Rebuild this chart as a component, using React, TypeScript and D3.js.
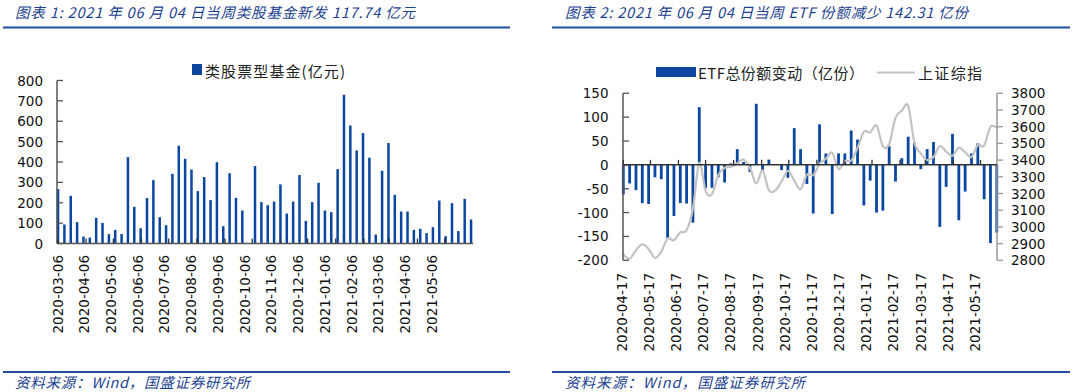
import * as d3 from "d3";

// 类股票型基金 weekly new issuance (亿元), from 2020-03-06 to 2021-06-04
const fundValues = [
  267, 93, 234, 105, 34, 29, 126, 101, 46, 67, 47, 424, 180, 75, 223, 311, 129, 90,
  342, 480, 416, 363, 257, 326, 213, 399, 85, 345, 224, 162, 0, 380, 203, 188, 206,
  290, 147, 206, 336, 111, 203, 298, 162, 154, 365, 730, 579, 457, 542, 421, 44, 357,
  493, 239, 157, 157, 67, 72, 51, 80, 211, 36, 198, 61, 219, 118,
];
const fundXLabels = [
  "2020-03-06", "2020-04-06", "2020-05-06", "2020-06-06", "2020-07-06", "2020-08-06",
  "2020-09-06", "2020-10-06", "2020-11-06", "2020-12-06", "2021-01-06", "2021-02-06",
  "2021-03-06", "2021-04-06", "2021-05-06",
];
const fundYTicks = [0, 100, 200, 300, 400, 500, 600, 700, 800];

// ETF总份额变动 (亿份) and 上证综指, weekly from 2020-04-17 to 2021-06-04
const etfValues = [
  -62, -39, -53, -80, -82, -26, -30, -153, -107, -80, -81, -121, 121, -49, -48, -26,
  -37, 3, 33, 6, -15, 128, -11, 11, 1, -11, -27, 77, 33, -40, -102, 85, 24, -103, 24,
  24, 72, 53, -85, -33, -100, -96, 39, -35, 14, 59, 47, -9, 33, 48, -130, -46, 65,
  -116, -56, 24, 45, -72, -164, -142,
];
const sseValues = [
  2838, 2809, 2860, 2895, 2868, 2814, 2852, 2930, 2920, 2967, 2980, 3110, 3383, 3214,
  3196, 3310, 3354, 3360, 3380, 3404, 3355, 3260, 3338, 3219, 3218, 3272, 3336, 3278,
  3225, 3312, 3310, 3377, 3408, 3444, 3347, 3395, 3397, 3473, 3570, 3566, 3607, 3483,
  3496, 3655, 3696, 3725, 3502, 3440, 3400, 3418, 3484, 3451, 3426, 3474, 3447, 3419,
  3490, 3487, 3601, 3592,
];
const etfXLabels = [
  "2020-04-17", "2020-05-17", "2020-06-17", "2020-07-17", "2020-08-17", "2020-09-17",
  "2020-10-17", "2020-11-17", "2020-12-17", "2021-01-17", "2021-02-17", "2021-03-17",
  "2021-04-17", "2021-05-17",
];
const etfYTicks = [150, 100, 50, 0, -50, -100, -150, -200];
const sseYTicks = [3800, 3700, 3600, 3500, 3400, 3300, 3200, 3100, 3000, 2900, 2800];

const BLUE = "#0b47a1";
const TITLE_BLUE = "#1c3f8f";
const NUM_FONT = '"DejaVu Sans", sans-serif';
const CJK_FONT = '"Noto Sans CJK SC", sans-serif';

const parse = d3.timeParse("%Y-%m-%d");
const weekly = (start: string, n: number) =>
  d3.range(n).map((i) => d3.timeDay.offset(parse(start)!, 7 * i));

const fundDates = weekly("2020-03-06", fundValues.length);
const etfDates = weekly("2020-04-17", etfValues.length);

function FundChart() {
  const x = d3
    .scaleTime()
    .domain([fundDates[0], fundDates[fundDates.length - 1]])
    .range([58, 471]);
  const y = d3.scaleLinear().domain([0, 800]).range([243.5, 80.5]);
  const xl = d3.scalePoint().domain(fundXLabels).range([57.5, 431.7]);

  return (
    <g>
      {fundValues.map((v, i) => (
        <rect
          key={i}
          x={x(fundDates[i]) - 1.2}
          y={y(v)}
          width={2.5}
          height={y(0) - y(v)}
          fill={BLUE}
        />
      ))}
      {/* y axis */}
      <line x1={57} x2={57} y1={y(800)} y2={y(0)} stroke="#555" strokeWidth={1.5} />
      {fundYTicks.map((t) => (
        <g key={t}>
          <line x1={57} x2={63} y1={y(t)} y2={y(t)} stroke="#555" strokeWidth={1.3} />
          <text
            x={43}
            y={y(t)}
            textAnchor="end"
            dominantBaseline="central"
            fontFamily={NUM_FONT}
            fontSize={13.5}
            fill="#111"
          >
            {t}
          </text>
        </g>
      ))}
      {/* x axis */}
      <line x1={57} x2={473} y1={y(0)} y2={y(0)} stroke="#555" strokeWidth={1.5} />
      {fundXLabels.map((l) => (
        <g key={l}>
          <line
            x1={x(parse(l)!)}
            x2={x(parse(l)!)}
            y1={y(0)}
            y2={y(0) - 5}
            stroke="#333"
            strokeWidth={1.3}
          />
          <text
            transform={`translate(${xl(l)},255) rotate(-90)`}
            textAnchor="end"
            dominantBaseline="central"
            fontFamily={NUM_FONT}
            fontSize={13.5}
            fill="#111"
          >
            {l}
          </text>
        </g>
      ))}
      {/* legend */}
      <rect x={192} y={64} width={10} height={11} fill={BLUE} />
      <text
        x={205}
        y={70}
        dominantBaseline="central"
        fontFamily={CJK_FONT}
        fontSize={15}
        fill="#222"
        textLength={140}
      >
        类股票型基金(亿元)
      </text>
    </g>
  );
}

function EtfChart() {
  const x = d3
    .scaleTime()
    .domain([etfDates[0], etfDates[etfDates.length - 1]])
    .range([623.3, 996.8]);
  const y = d3.scaleLinear().domain([-200, 150]).range([260.3, 93.3]);
  const y2 = d3.scaleLinear().domain([2800, 3800]).range([260.3, 93.3]);
  const xl = d3.scalePoint().domain(etfXLabels).range([621.7, 975]);

  const line = d3
    .line<number>()
    .x((_, i) => x(etfDates[i]))
    .y((d) => y2(d))
    .curve(d3.curveCardinal.tension(0));

  return (
    <g>
      {etfValues.map((v, i) => (
        <rect
          key={i}
          x={x(etfDates[i]) - 1.4}
          y={Math.min(y(v), y(0))}
          width={2.8}
          height={Math.abs(y(0) - y(v))}
          fill={BLUE}
        />
      ))}
      <path d={line(sseValues) ?? ""} fill="none" stroke="#c3c3c3" strokeWidth={2.2} />
      {/* left axis */}
      <line x1={623} x2={623} y1={y(150)} y2={y(-200)} stroke="#555" strokeWidth={1.5} />
      {etfYTicks.map((t) => (
        <g key={t}>
          <line x1={623} x2={629} y1={y(t)} y2={y(t)} stroke="#555" strokeWidth={1.3} />
          <text
            x={608.5}
            y={y(t)}
            textAnchor="end"
            dominantBaseline="central"
            fontFamily={NUM_FONT}
            fontSize={13.5}
            fill="#111"
          >
            {t}
          </text>
        </g>
      ))}
      {/* right axis */}
      <line x1={997} x2={997} y1={y2(3800)} y2={y2(2800)} stroke="#999" strokeWidth={1.5} />
      {sseYTicks.map((t) => (
        <g key={t}>
          <line x1={997} x2={1003} y1={y2(t)} y2={y2(t)} stroke="#999" strokeWidth={1.3} />
          <text
            x={1011}
            y={y2(t)}
            dominantBaseline="central"
            fontFamily={NUM_FONT}
            fontSize={13.5}
            fill="#111"
          >
            {t}
          </text>
        </g>
      ))}
      {/* x axis at zero */}
      <line x1={623} x2={997} y1={y(0)} y2={y(0)} stroke="#333" strokeWidth={1.5} />
      {etfXLabels.map((l) => (
        <g key={l}>
          <line
            x1={x(parse(l)!)}
            x2={x(parse(l)!)}
            y1={y(0)}
            y2={y(0) - 5}
            stroke="#333"
            strokeWidth={1.3}
          />
          <text
            transform={`translate(${xl(l)},273) rotate(-90)`}
            textAnchor="end"
            dominantBaseline="central"
            fontFamily={NUM_FONT}
            fontSize={13.5}
            fill="#111"
          >
            {l}
          </text>
        </g>
      ))}
      {/* legend */}
      <rect x={656} y={67} width={40} height={10} fill={BLUE} />
      <text
        x={698}
        y={72}
        dominantBaseline="central"
        fontFamily={CJK_FONT}
        fontSize={15}
        fill="#222"
        textLength={166}
      >
        ETF总份额变动（亿份）
      </text>
      <line x1={877} x2={915} y1={72.5} y2={72.5} stroke="#c3c3c3" strokeWidth={2.2} />
      <text
        x={918}
        y={72}
        dominantBaseline="central"
        fontFamily={CJK_FONT}
        fontSize={15}
        fill="#222"
        textLength={64}
      >
        上证综指
      </text>
    </g>
  );
}

export default function App() {
  const headerText = {
    fontFamily: CJK_FONT,
    fontStyle: "italic",
    fontSize: 14.5,
    fill: TITLE_BLUE,
  } as const;

  return (
    <>
      <style>{`body{margin:0;background:#fff}`}</style>
      <svg width={1078} height={392} style={{ display: "block" }}>
        <rect width={1078} height={392} fill="#fff" />
        {/* headers */}
        <text x={15} y={17.5} {...headerText} textLength={400}>
          图表 1:  2021 年 06 月 04 日当周类股基金新发 117.74 亿元
        </text>
        <text x={565} y={17.5} {...headerText} textLength={403}>
          图表 2:  2021 年 06 月 04 日当周 ETF 份额减少 142.31 亿份
        </text>
        <line x1={3} x2={510} y1={27.5} y2={27.5} stroke="#1f4e9f" strokeWidth={2} />
        <line x1={552} x2={1070} y1={27.5} y2={27.5} stroke="#1f4e9f" strokeWidth={2} />

        <FundChart />
        <EtfChart />

        {/* footers */}
        <line x1={3} x2={510} y1={372} y2={372} stroke="#1f4e9f" strokeWidth={2} />
        <line x1={552} x2={1070} y1={372} y2={372} stroke="#1f4e9f" strokeWidth={2} />
        <text x={15} y={387.5} {...headerText} fontSize={14.5} textLength={235}>
          资料来源：Wind，国盛证券研究所
        </text>
        <text x={565} y={387.5} {...headerText} fontSize={14.5} textLength={240}>
          资料来源：Wind，国盛证券研究所
        </text>
      </svg>
    </>
  );
}
